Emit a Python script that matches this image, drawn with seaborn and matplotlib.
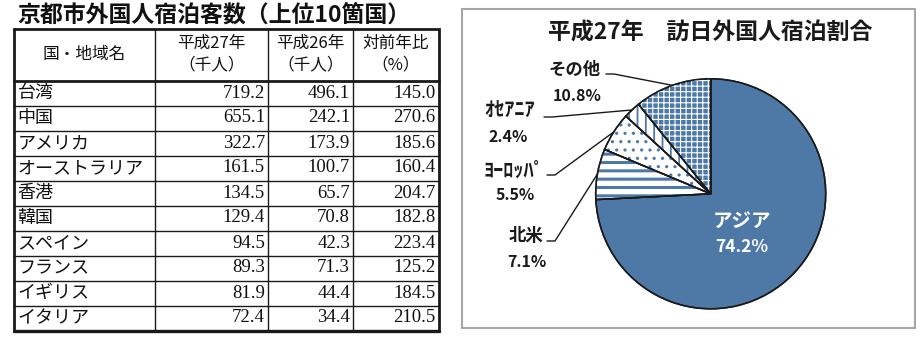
import numpy as np
import pandas as pd
import matplotlib
matplotlib.use("Agg")
import matplotlib.pyplot as plt
import seaborn as sns

# ---------------- data ----------------
countries = ["台湾", "中国", "アメリカ", "オーストラリア", "香港", "韓国",
             "スペイン", "フランス", "イギリス", "イタリア"]
h27 = [719.2, 655.1, 322.7, 161.5, 134.5, 129.4, 94.5, 89.3, 81.9, 72.4]
h26 = [496.1, 242.1, 173.9, 100.7, 65.7, 70.8, 42.3, 71.3, 44.4, 34.4]
ratio = [145.0, 270.6, 185.6, 160.4, 204.7, 182.8, 223.4, 125.2, 184.5, 210.5]

regions = ["アジア", "北米", "ﾖｰﾛｯﾊﾟ", "ｵｾｱﾆｱ", "その他"]
shares = [74.2, 7.1, 5.5, 2.4, 10.8]

table_title = "京都市外国人宿泊客数（上位10箇国）"
col_headers = [["国・地域名"], ["平成27年", "（千人）"], ["平成26年", "（千人）"], ["対前年比", "（%）"]]
pie_title = "平成27年　訪日外国人宿泊割合"

df = pd.DataFrame({"name": countries, "h27": h27, "h26": h26, "ratio": ratio})

# ---------------- style ----------------
sns.set_theme(style="white")
plt.rcParams['font.family'] = ['Noto Sans CJK JP', 'DejaVu Sans']
BLUE = "#4E79A7"
W, H = 923, 339
fig = plt.figure(figsize=(W / 100, H / 100), dpi=100)
ax = fig.add_axes([0, 0, 1, 1])


def Y(y):
    return H - y


# ---------------- pie ----------------
cx, cy, R = 710.7, 193.8, 115
face = [BLUE, "white", "white", "white", BLUE]
wedges, _ = ax.pie(shares, startangle=90, counterclock=False, center=(cx, Y(cy)),
                   radius=R, colors=face,
                   wedgeprops=dict(edgecolor="#1a1a1a", linewidth=1.1))
hatches = [None, "--", "..", "||", "+++"]
hcolors = [BLUE, BLUE, BLUE, BLUE, "white"]
hlw = [1, 2.2, 1.1, 1.3, 0.8]
hw, _ = ax.pie(shares, startangle=90, counterclock=False, center=(cx, Y(cy)),
               radius=R, colors=["none"] * len(shares),
               wedgeprops=dict(linewidth=0))
for w, ht, hc, lw in zip(hw, hatches, hcolors, hlw):
    if ht is None:
        w.set_visible(False)
        continue
    w.set_hatch(ht)
    w.set_edgecolor(hc)
    w.set_linewidth(0)
    if hasattr(w, "set_hatch_linewidth"):
        w.set_hatch_linewidth(lw)
# redraw outlines on top
ow, _ = ax.pie(shares, startangle=90, counterclock=False, center=(cx, Y(cy)),
               radius=R, colors=["none"] * len(shares),
               wedgeprops=dict(edgecolor="#1a1a1a", linewidth=1.1, fill=False))

ax.set_xlim(0, W)
ax.set_ylim(0, H)
ax.set_aspect("auto")
ax.axis("off")

# pie frame
ax.add_patch(plt.Rectangle((462, Y(328)), 453, 319, fill=False,
                           edgecolor="#a6a6a6", linewidth=1.5))
ax.text(710, Y(33), pie_title, ha="center", va="center", fontsize=16.5,
        fontweight="bold", color="#1a1a1a")

# labels: (name pos, pct pos, leader start, font size)
lab_layout = {
    "北米": ((526, 236), (527, 262), (547, 241), 12.5),
    "ﾖｰﾛｯﾊﾟ": ((514, 170), (515, 195), (547, 175), 14.5),
    "ｵｾｱﾆｱ": ((510, 110), (508, 137), (544, 117), 14.5),
    "その他": ((575, 70), (577, 96), (606, 74), 12.5),
}
for w, name, s in zip(wedges, regions, shares):
    mid = np.deg2rad((w.theta1 + w.theta2) / 2)
    if name == "アジア":
        ax.text(742, Y(222), name, ha="center", va="center", color="white",
                fontsize=14, fontweight="bold")
        ax.text(742, Y(247), f"{s:.1f}%", ha="center", va="center", color="white",
                fontsize=12.5, fontweight="bold")
        continue
    (nx, ny), (px, py), (sx, sy), fs = lab_layout[name]
    ax.text(nx, Y(ny), name, ha="center", va="center", fontsize=fs,
            fontweight="bold", color="#1a1a1a")
    ax.text(px, Y(py), f"{s:.1f}%", ha="center", va="center", fontsize=11.5,
            fontweight="bold", color="#1a1a1a")
    ex = cx + R * np.cos(mid)
    ey = Y(cy) + R * np.sin(mid)
    ax.plot([sx, sx + 8, ex], [Y(sy), Y(sy), ey], color="#1a1a1a", lw=1.0,
            solid_joinstyle="miter")

# ---------------- table ----------------
ax.text(17, Y(15), table_title, ha="left", va="center", fontsize=16.5,
        fontweight="bold", color="#111111")

xs = [13.5, 155, 268, 353, 438.5]
top, hdr_bot, rh = 28.5, 80.5, 25
n = len(df)
bot = hdr_bot + rh * n
ys = [hdr_bot + rh * i for i in range(n + 1)]

LC = "#1a1a1a"
for x in xs[1:-1]:
    ax.plot([x, x], [Y(top), Y(bot)], color=LC, lw=1.0)
for y in ys[1:-1]:
    ax.plot([xs[0], xs[-1]], [Y(y), Y(y)], color=LC, lw=1.0)
ax.plot([xs[0], xs[-1]], [Y(hdr_bot), Y(hdr_bot)], color=LC, lw=2.0)
ax.plot([xs[0], xs[-1], xs[-1], xs[0], xs[0]],
        [Y(top), Y(top), Y(bot), Y(bot), Y(top)], color=LC, lw=2.0,
        solid_joinstyle="miter")
ax.plot([xs[0], xs[-1]], [Y(bot + 0.8), Y(bot + 0.8)], color=LC, lw=2.4)

hfs = 12
for j, lines in enumerate(col_headers):
    xc = (xs[j] + xs[j + 1]) / 2
    if len(lines) == 1:
        ax.text(xc, Y(54), lines[0], ha="center", va="center", fontsize=hfs, color="#111")
    else:
        ax.text(xc, Y(43), lines[0], ha="center", va="center", fontsize=hfs, color="#111")
        ax.text(xc, Y(65), lines[1], ha="center", va="center", fontsize=hfs, color="#111")

numfont = dict(family=["Liberation Serif", "DejaVu Serif"], fontsize=13.5, color="#111")
for i, row in df.iterrows():
    yc = hdr_bot + rh * i + rh / 2
    ax.text(xs[0] + 4, Y(yc), row["name"], ha="left", va="center", fontsize=13, color="#111")
    for j, col in enumerate(["h27", "h26", "ratio"]):
        ax.text(xs[j + 2] - 3, Y(yc), f"{row[col]:.1f}", ha="right", va="center", **numfont)

fig.savefig("out.png", dpi=100)
